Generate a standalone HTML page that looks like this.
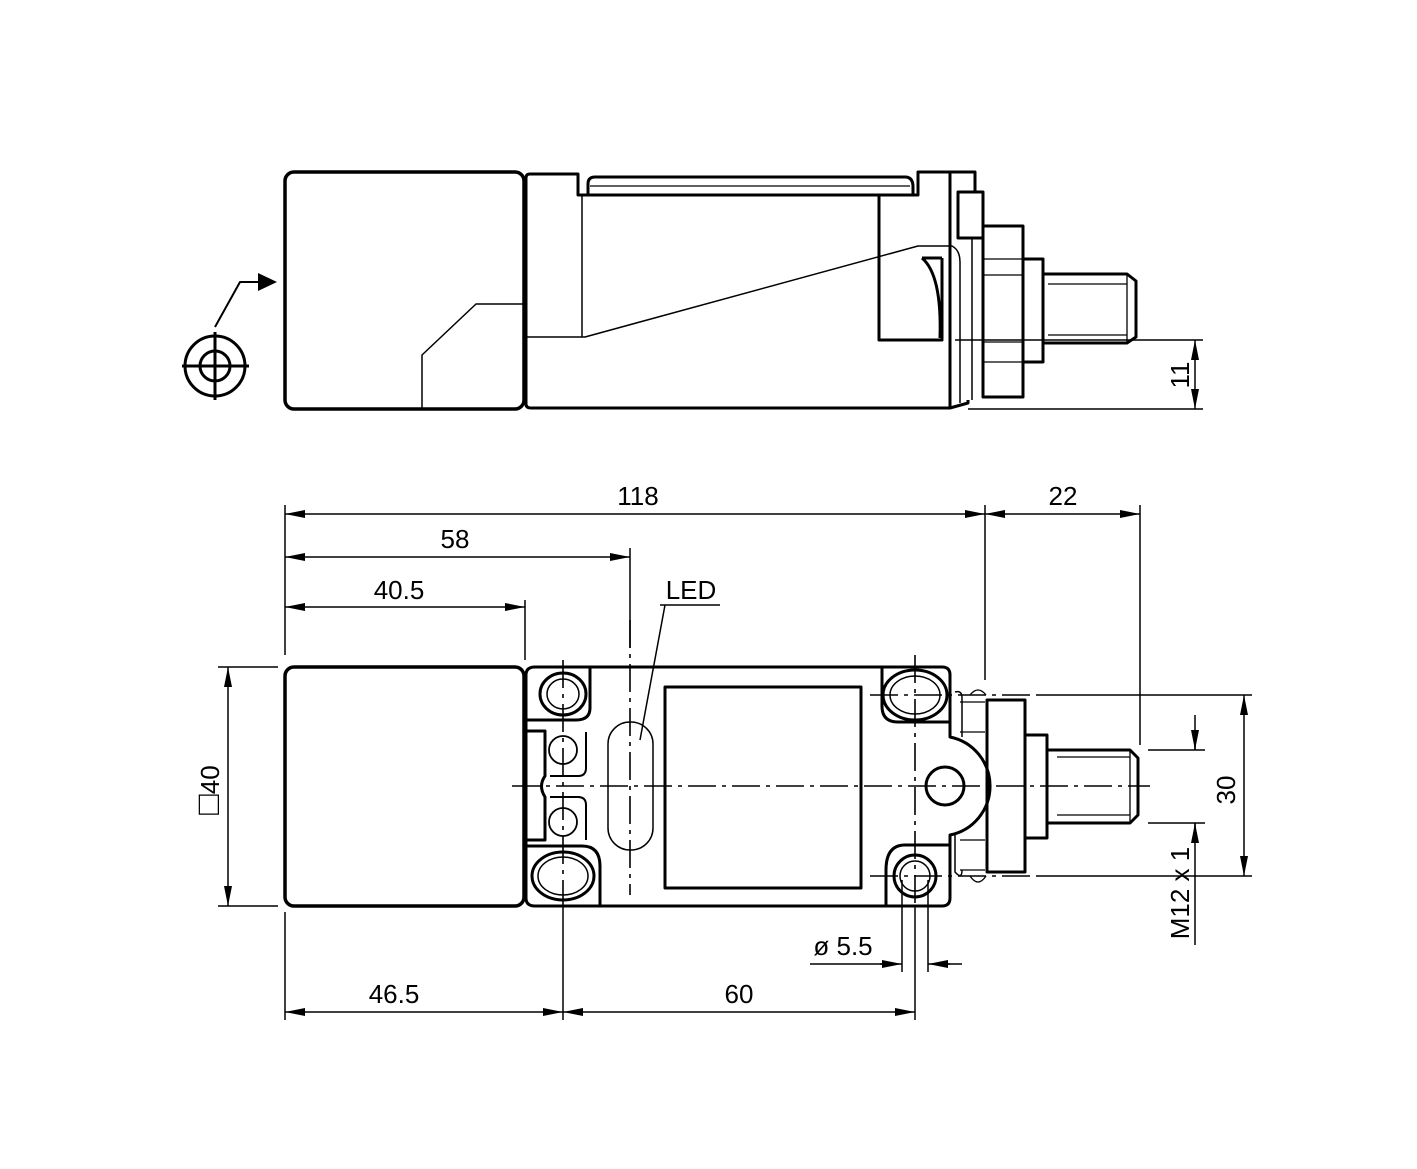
<!DOCTYPE html>
<html><head><meta charset="utf-8"><style>
html,body{margin:0;padding:0;background:#fff;}
svg{display:block;}
text{font-family:"Liberation Sans",sans-serif;font-size:26px;fill:#000;}
</style></head><body>
<svg width="1417" height="1169" viewBox="0 0 1417 1169" xmlns="http://www.w3.org/2000/svg">
<defs>
<marker id="a" viewBox="0 0 20 8" refX="20" refY="4" markerWidth="20" markerHeight="8" markerUnits="userSpaceOnUse" orient="auto-start-reverse"><path d="M0,0 L20,4 L0,8 Z" fill="#000"/></marker>
</defs>
<g fill="none" stroke="#000" stroke-linejoin="round">
<rect x="285" y="172" width="239" height="237" rx="9" stroke-width="3.5"/>
<path d="M422,408 V355 L476,304 H524" stroke-width="1.5"/>
<path d="M526,178 Q526,174 530,174 H578 V195 H588 M588,195 V184 Q588,177 595,177 H905 Q913,177 913,187 V195 H918 V172 H975 V192 M950,172 V408 M526,178 V404 Q526,408 531,408 H950 L968,403 V400" stroke-width="3"/>
<path d="M588,195 H918" stroke-width="3"/>
<path d="M590,186 H910" stroke-width="1.3"/>
<path d="M582,195 V337 M526,337 H585 L918,246 H952 Q960,250 960,262 V403 M972,238 V400" stroke-width="1.5"/>
<rect x="958" y="192" width="25" height="46" stroke-width="3"/>
<path d="M942,258 V340 H879 V196" stroke-width="3"/>
<path d="M922,258 H942 M922,258 Q942,275 940,338" stroke-width="3"/>
<rect x="983" y="226" width="40" height="171" stroke-width="3"/>
<path d="M983,259 H1023 M983,275 H1023 M983,342 H1023 M983,362 H1023" stroke-width="1.3"/>
<rect x="1023" y="259" width="20" height="103" stroke-width="3"/>
<path d="M1043,274 H1127 L1136,281 V337 L1127,343 H1043" stroke-width="3"/>
<path d="M1048,284 H1127 M1048,335 H1127 M1127,274 V343" stroke-width="1.3"/>
<path d="M955,340 H1203 M968,409 H1203" stroke-width="1.5"/>
<line x1="1195" y1="340" x2="1195" y2="409" stroke-width="1.5" marker-start="url(#a)" marker-end="url(#a)"/>
<circle cx="215" cy="366" r="30" stroke-width="3"/>
<circle cx="215" cy="366" r="15" stroke-width="3"/>
<path d="M182,366 H249 M215,332 V400" stroke-width="3"/>
<path d="M215,327 L240,282 H258" stroke-width="2"/>
<path d="M258,273 L277,282 L258,291 Z" fill="#000" stroke="none"/>

<rect x="285" y="667" width="239" height="239" rx="9" stroke-width="3.5"/>
<path d="M535,667 H942 Q950,667 950,675 V737 A50,50 0 0 1 950,835 V898 Q950,906 942,906 H535 Q526,906 526,898 V675 Q526,667 535,667 Z" stroke-width="3"/>
<path d="M882,668 V706 Q882,722 898,722 H950" stroke-width="3"/>
<path d="M950,845 H905 Q886,845 886,870 V906" stroke-width="3"/>
<ellipse cx="915" cy="695" rx="32" ry="25" stroke-width="3"/>
<ellipse cx="915" cy="695" rx="25" ry="19" stroke-width="1.5"/>
<circle cx="915" cy="876" r="21" stroke-width="3"/>
<circle cx="915" cy="876" r="15" stroke-width="1.5"/>
<circle cx="945" cy="786" r="19" stroke-width="3"/>
<rect x="665" y="687" width="196" height="201" stroke-width="3"/>
<rect x="608" y="722" width="45" height="128" rx="22" stroke-width="1.5"/>
<path d="M590,668 V708 Q590,720 576,720 H527" stroke-width="3"/>
<path d="M527,731 H545 V776 Q538,786 545,797 V840 H527" stroke-width="3"/>
<path d="M550,776 H578 Q586,776 586,768 V732" stroke-width="2"/>
<path d="M550,797 H578 Q586,797 586,805 V840" stroke-width="2"/>
<path d="M527,846 H582 Q600,846 600,866 V906" stroke-width="3"/>
<ellipse cx="563" cy="694" rx="23" ry="21" stroke-width="3"/>
<ellipse cx="563" cy="694" rx="16" ry="15" stroke-width="1.5"/>
<ellipse cx="563" cy="876" rx="31" ry="24" stroke-width="3"/>
<ellipse cx="563" cy="876" rx="25" ry="19" stroke-width="1.5"/>
<circle cx="563" cy="750" r="14" stroke-width="1.8"/>
<circle cx="563" cy="822" r="14" stroke-width="1.8"/>
<path d="M955,692 Q962,690 962,698 V737 M955,835 V872 Q962,880 962,870" stroke-width="1.5"/>
<path d="M960,702 H985 M960,732 H985 M960,840 H985 M960,870 H985" stroke-width="1.3"/>
<path d="M970,695 Q978,685 986,695 M970,876 Q978,888 986,876" stroke-width="1.3"/>
<rect x="987" y="700" width="38" height="172" stroke-width="3"/>
<rect x="1025" y="735" width="22" height="103" stroke-width="3"/>
<path d="M1047,750 H1130 L1138,758 V815 L1130,823 H1047" stroke-width="3"/>
<path d="M1057,757 H1130 M1057,815 H1130 M1130,750 V823" stroke-width="1.3"/>
<g stroke-width="1.6" stroke-dasharray="28,6,4,6">
<path d="M512,786 H1150"/>
<path d="M563,660 V905"/>
<path d="M630,620 V895"/>
<path d="M915,655 V905"/>
<path d="M870,695 H1040"/>
<path d="M870,876 H1040"/>
</g>
<g stroke-width="1.5">
<path d="M285,505 V655 M985,505 V680 M1140,505 V745 M525,600 V660 M630,548 V648"/>
<path d="M218,667 H278 M218,906 H278"/>
<path d="M285,912 V1020 M563,905 V1020 M915,905 V1020"/>
<path d="M1040,695 H1252 M1040,876 H1252"/>
<path d="M1148,750 H1205 M1148,823 H1205"/>
<path d="M902,880 V972 M928,880 V972"/>
<path d="M810,964 H882 M948,964 H962"/>
<path d="M660,605 H720 M665,605 L640,740"/>
<path d="M1195,715 V750 M1195,823 V945"/>
</g>
<g stroke-width="1.5">
<line x1="285" y1="514" x2="985" y2="514" marker-start="url(#a)" marker-end="url(#a)"/>
<line x1="985" y1="514" x2="1140" y2="514" marker-start="url(#a)" marker-end="url(#a)"/>
<line x1="285" y1="557" x2="630" y2="557" marker-start="url(#a)" marker-end="url(#a)"/>
<line x1="285" y1="607" x2="525" y2="607" marker-start="url(#a)" marker-end="url(#a)"/>
<line x1="228" y1="667" x2="228" y2="906" marker-start="url(#a)" marker-end="url(#a)"/>
<line x1="285" y1="1012" x2="563" y2="1012" marker-start="url(#a)" marker-end="url(#a)"/>
<line x1="563" y1="1012" x2="915" y2="1012" marker-start="url(#a)" marker-end="url(#a)"/>
<line x1="1244" y1="695" x2="1244" y2="876" marker-start="url(#a)" marker-end="url(#a)"/>
<line x1="880" y1="964" x2="902" y2="964" marker-end="url(#a)"/>
<line x1="950" y1="964" x2="928" y2="964" marker-end="url(#a)"/>
<line x1="1195" y1="730" x2="1195" y2="750" marker-end="url(#a)"/>
<line x1="1195" y1="843" x2="1195" y2="823" marker-end="url(#a)"/>
</g>
</g>
<text x="638" y="505" text-anchor="middle">118</text>
<text x="1063" y="505" text-anchor="middle">22</text>
<text x="455" y="548" text-anchor="middle">58</text>
<text x="399" y="599" text-anchor="middle">40.5</text>
<text x="691" y="599" text-anchor="middle">LED</text>
<text x="394" y="1003" text-anchor="middle">46.5</text>
<text x="739" y="1003" text-anchor="middle">60</text>
<text x="843" y="955" text-anchor="middle">ø 5.5</text>
<text transform="translate(1189,375) rotate(-90)" text-anchor="middle">11</text>
<text transform="translate(219,790) rotate(-90)" text-anchor="middle"><tspan font-size="34">□</tspan>40</text>
<text transform="translate(1235,790) rotate(-90)" text-anchor="middle">30</text>
<text transform="translate(1189,893) rotate(-90)" text-anchor="middle">M12 x 1</text>
</svg>
</body></html>
